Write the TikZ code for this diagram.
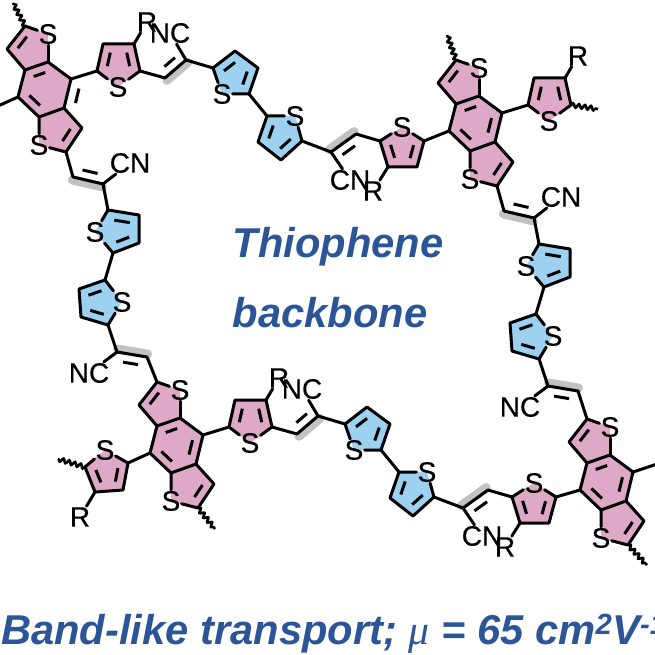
\documentclass[tikz,border=0pt]{standalone}
\usepackage{fontspec}
\setmainfont{Liberation Sans}
\newfontfamily\mufont{Liberation Serif}
\newfontfamily\atomfont[FakeBold=0.5]{Liberation Sans}
\usepackage{xcolor}
\usepackage{tikz}
\usetikzlibrary{calc,positioning,decorations.pathmorphing}

\definecolor{ringpink}{HTML}{DDA9C6}
\definecolor{ringblue}{HTML}{9CD2EF}
\definecolor{vinylgrey}{HTML}{C2C2C2}
\definecolor{titleblue}{HTML}{2B5597}

\tikzset{
  bond/.style={draw=black, line width=3pt, line join=round, line cap=round},
  tick/.style={draw=black, line width=3pt},
  wavy/.style={draw=black, line width=2.6pt, decorate, decoration={snake, amplitude=2pt, segment length=6pt}},
  atom/.style={inner sep=1pt, font=\atomfont\fontsize{28}{30}\selectfont},
  glow/.style={draw=vinylgrey, line width=9pt, line cap=round},
  title/.style={inner sep=0pt, text=titleblue, font=\fontsize{41.7}{44}\selectfont\bfseries\itshape}
}

% inner stroke of a double bond, left of the way from #1 to #2
\newcommand{\dbl}[3]{\draw[tick] ($(#1)!.25!(#2)!#3pt!90:(#2)$) -- ($(#1)!.75!(#2)!#3pt!90:(#2)$);}
% style, S node, S place, then the four carbons
\newcommand{\thioring}[7]{
  \fill[#1] (#3) -- (#4) -- (#5) -- (#6) -- (#7) -- cycle;
  \node[atom] (#2) at (#3) {S};
  \draw[bond] (#2) -- (#4) -- (#5) -- (#6) -- (#7) -- (#2);
}
% vinylene, grey stripe on the side away from the stroke
\newcommand{\vinyl}[3]{
  \draw[glow] ($(#1)!3pt!#3:(#2)$) -- ($(#2)!3pt!-#3:(#1)$);
  \draw[bond] (#1) -- (#2);
}

% fused core
\newcommand{\bdtcore}[3]{
  \begin{scope}[shift={(#2)}]
    \coordinate (#1t) at (25,26);
    \coordinate (#1u) at (7,49);
    \coordinate (#1b) at (25,70);
    \coordinate (#1c) at (48,62);
    \coordinate (#1d) at (71,79);
    \coordinate (#1e) at (64,108);
    \coordinate (#1f) at (39,117);
    \coordinate (#1g) at (18,97);
    \coordinate (#1h) at (82,128);
    \coordinate (#1i) at (66,152);
    \coordinate (#1sa) at (48,34);
    \coordinate (#1sb) at (39,145);
    \fill[ringpink] (#1t) -- (#1sa) -- (#1c) -- (#1d) -- (#1e) -- (#1h) -- (#1i) -- (#1sb) -- (#1f) -- (#1g) -- (#1b) -- (#1u) -- cycle;
    \node[atom] (#1Sa) at (#1sa) {S};
    \node[atom] (#1Sb) at (#1sb) {S};
    \draw[bond] (#1Sa) -- (#1t) -- (#1u) -- (#1b) -- (#1c) -- (#1d) -- (#1e) -- (#1f) -- (#1g) -- (#1b);
    \draw[bond] (#1c) -- (#1Sa);
    \draw[bond] (#1f) -- (#1Sb) -- (#1i) -- (#1h) -- (#1e);
    \dbl{#1t}{#1u}{8}
    \dbl{#1c}{#1b}{9}
    \dbl{#1g}{#1f}{9}
    \dbl{#1e}{#1d}{#3}
    \dbl{#1i}{#1h}{9}
  \end{scope}
}

% thiophene with R on the right of a core
\newcommand{\rthio}[2]{
  \begin{scope}[shift={(#2)}]
    \coordinate (#1pa) at (97,71);
    \coordinate (#1pb) at (103,44);
    \coordinate (#1pc) at (134,44);
    \coordinate (#1pd) at (140,71);
    \coordinate (#1ps) at (118,87);
    \thioring{ringpink}{#1Sp}{#1ps}{#1pd}{#1pc}{#1pb}{#1pa}
    \dbl{#1pb}{#1pa}{9}
    \dbl{#1pd}{#1pc}{9}
    \node[atom] (#1R) at (147,22) {R};
    \draw[bond] (#1pc) -- (#1R);
    \draw[bond] (#1d) -- (#1pa);
  \end{scope}
}

% long run across: vinylene, two blue rings, vinylene, pink ring
\newcommand{\hchain}[2]{
  \begin{scope}[shift={(#2)}]
    \coordinate (#1va) at (165,78);
    \coordinate (#1vb) at (186,60);
    \vinyl{#1va}{#1vb}{-90}
    \dbl{#1va}{#1vb}{9}
    \node[atom] (#1nc) at (170,33) {NC};
    \draw[bond] (#1vb) -- (#1nc);
    \draw[bond] (#1pd) -- (#1va);
    \coordinate (#1qa) at (213,68);
    \coordinate (#1qb) at (235,51);
    \coordinate (#1qc) at (258,68);
    \coordinate (#1qd) at (249,94);
    \coordinate (#1qs) at (222,94);
    \thioring{ringblue}{#1Sq}{#1qs}{#1qd}{#1qc}{#1qb}{#1qa}
    \dbl{#1qb}{#1qa}{9}
    \dbl{#1qd}{#1qc}{9}
    \draw[bond] (#1vb) -- (#1qa);
    \coordinate (#1ra) at (267,116);
    \coordinate (#1rb) at (258,142);
    \coordinate (#1rc) at (281,160);
    \coordinate (#1rd) at (302,141);
    \coordinate (#1rs) at (295,116);
    \thioring{ringblue}{#1Sr}{#1rs}{#1ra}{#1rb}{#1rc}{#1rd}
    \dbl{#1ra}{#1rb}{9}
    \dbl{#1rc}{#1rd}{9}
    \draw[bond] (#1qd) -- (#1ra);
    \coordinate (#1xa) at (331,152);
    \coordinate (#1xb) at (356,134);
    \vinyl{#1xb}{#1xa}{-90}
    \dbl{#1xb}{#1xa}{9}
    \node[atom] (#1cn) at (350,180) {CN};
    \draw[bond] (#1xa) -- (#1cn);
    \draw[bond] (#1rd) -- (#1xa);
    \coordinate (#1ya) at (380,141);
    \coordinate (#1yb) at (388,167);
    \coordinate (#1yc) at (417,167);
    \coordinate (#1yd) at (424,141);
    \coordinate (#1ys) at (402,127);
    \thioring{ringpink}{#1Sy}{#1ys}{#1ya}{#1yb}{#1yc}{#1yd}
    \dbl{#1ya}{#1yb}{9}
    \dbl{#1yc}{#1yd}{9}
    \draw[bond] (#1xb) -- (#1ya);
    \node[atom] (#1Ry) at (373,191) {R};
    \draw[bond] (#1yb) -- (#1Ry);
  \end{scope}
}

% long run downwards
\newcommand{\vchain}[2]{
  \begin{scope}[shift={(#2)}]
    \coordinate (#1wa) at (73,177);
    \coordinate (#1wb) at (103,184);
    \vinyl{#1wa}{#1wb}{-90}
    \dbl{#1wa}{#1wb}{9}
    \node[atom] (#1cw) at (130,163) {CN};
    \draw[bond] (#1wb) -- (#1cw);
    \draw[bond] (#1i) -- (#1wa);
    \coordinate (#1ua) at (108,210);
    \coordinate (#1ub) at (139,215);
    \coordinate (#1uc) at (139,243);
    \coordinate (#1ud) at (113,253);
    \coordinate (#1us) at (95,232);
    \thioring{ringblue}{#1Su}{#1us}{#1ud}{#1uc}{#1ub}{#1ua}
    \dbl{#1ub}{#1ua}{9}
    \dbl{#1ud}{#1uc}{9}
    \draw[bond] (#1wb) -- (#1ua);
    \coordinate (#1za) at (105,280);
    \coordinate (#1zb) at (79,289);
    \coordinate (#1zc) at (81,317);
    \coordinate (#1zd) at (108,325);
    \coordinate (#1zs) at (122,302);
    \thioring{ringblue}{#1Sz}{#1zs}{#1za}{#1zb}{#1zc}{#1zd}
    \dbl{#1za}{#1zb}{9}
    \dbl{#1zc}{#1zd}{9}
    \draw[bond] (#1ud) -- (#1za);
    \coordinate (#1na) at (117,352);
    \coordinate (#1nb) at (147,357);
    \vinyl{#1nb}{#1na}{-90}
    \dbl{#1nb}{#1na}{9}
    \node[atom] (#1cz) at (89,373) {NC};
    \draw[bond] (#1na) -- (#1cz);
    \draw[bond] (#1zd) -- (#1na);
  \end{scope}
}

\begin{document}
\begin{tikzpicture}[x=1pt, y=-1pt]
    \useasboundingbox (0,0) rectangle (655,655);
    \clip (0,0) rectangle (655,655);

    % Cores, the first has its stroke outside the ring
    \bdtcore{A}{0,0}{-10}
    \bdtcore{B}{431,34}{9}
    \bdtcore{C}{132,356}{9}
    \bdtcore{D}{562,393}{9}

    % Side rings
    \rthio{A}{0,0}
    \rthio{B}{431,34}
    \rthio{C}{132,356}

    % Runs between the cores
    \hchain{A}{0,0}
    \hchain{C}{132,356}
    \vchain{A}{0,0}
    \vchain{B}{431,34}
    \draw[bond] (Ayd) -- (Bg);
    \draw[bond] (Cyd) -- (Dg);
    \draw[bond] (Anb) -- (Ct);
    \draw[bond] (Bnb) -- (Dt);

    % Left ring of the lower core
    \coordinate (la) at (128,463);
    \coordinate (lb) at (123,490);
    \coordinate (lc) at (95,492);
    \coordinate (ld) at (85,467);
    \coordinate (ls) at (105,450);
    \thioring{ringpink}{Sl}{ls}{ld}{lc}{lb}{la}
    \dbl{ld}{lc}{9}
    \dbl{lb}{la}{9}
    \draw[bond] (Cg) -- (la);
    \node[atom] (Rl) at (80,517) {R};
    \draw[bond] (lc) -- (Rl);

    % Chain ends
    \coordinate (endA) at (13,3);
    \coordinate (endB) at (-2,106);
    \coordinate (endC) at (447,35);
    \coordinate (endD) at (598,109);
    \coordinate (endE) at (58,459);
    \coordinate (endF) at (215,529);
    \coordinate (endG) at (657,464);
    \coordinate (endH) at (647,565);
    \draw[wavy] (At) -- (endA);
    \draw[bond] (Ag) -- (endB);
    \draw[wavy] (Bt) -- (endC);
    \draw[wavy] (Bpd) -- (endD);
    \draw[wavy] (ld) -- (endE);
    \draw[wavy] (Ci) -- (endF);
    \draw[bond] (Dd) -- (endG);
    \draw[wavy] (Di) -- (endH);

    % Captions
    \node[title] (thio) at (338,247) {Thiophene};
    \node[title] (back) at (330,313) {backbone};
    \node[title, anchor=base west] (band) at (1,644) {Band-like transport; {\mufont\mdseries μ} = 65 cm\textsuperscript{2}V\textsuperscript{-1}};
\end{tikzpicture}
\end{document}
